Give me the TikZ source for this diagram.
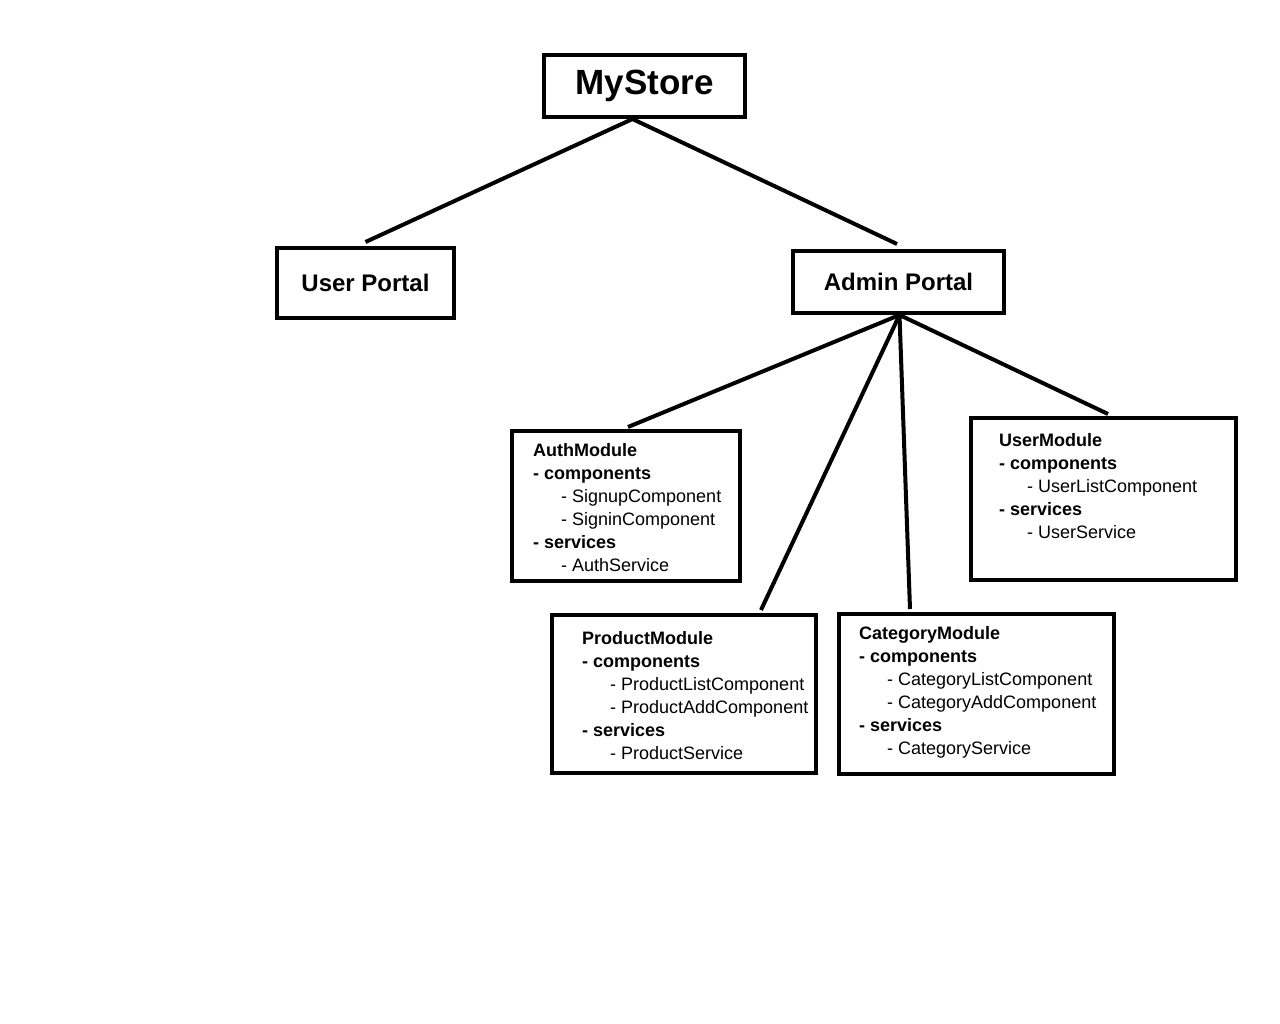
\documentclass[tikz,border=0pt]{standalone}
\usepackage{fontspec}
\setmainfont{Liberation Sans}
\usetikzlibrary{positioning}
\newcommand{\grp}[1]{\textbf{- #1}}
\newcommand{\itm}[1]{\hspace*{28pt}- #1}

\begin{document}
\begin{tikzpicture}[x=1pt,y=-1pt,
    box/.style={draw,line width=4pt,inner sep=0pt,font=\bfseries\fontsize{24}{28}\selectfont},
    modtext/.style={anchor=north west,inner sep=0pt,align=left,font=\fontsize{18}{23}\selectfont},
    link/.style={line width=4pt}]
    \useasboundingbox (0,0) rectangle (1280,1024);

    % Top level
    \node[box,minimum width=201pt,minimum height=62pt,font=\bfseries\fontsize{35}{40}\selectfont] (store) at (644.5,86) {MyStore};
    \node[box,minimum width=177pt,minimum height=70pt] (up) at (365.5,283) {User Portal};
    \node[box,minimum width=211pt,minimum height=62pt] (ap) at (898.5,282) {Admin Portal};

    % Module boxes
    \node[box,minimum width=228pt,minimum height=150pt] (auth) at (626,506) {};
    \node[box,minimum width=265pt,minimum height=162pt] (um) at (1103.5,499) {};
    \node[box,minimum width=264pt,minimum height=158pt] (pm) at (684,694) {};
    \node[box,minimum width=275pt,minimum height=160pt] (cm) at (976.5,694) {};

    % Module contents
    \node[modtext] (authtxt) at (533,443) {\textbf{AuthModule}\\ \grp{components}\\ \itm{SignupComponent}\\
        \itm{SigninComponent}\\ \grp{services}\\ \itm{AuthService}};
    \node[modtext] (umtxt) at (999,433) {\textbf{UserModule}\\ \grp{components}\\ \itm{UserListComponent}\\
        \grp{services}\\ \itm{UserService}};
    \node[modtext] (pmtxt) at (582,631) {\textbf{ProductModule}\\ \grp{components}\\ \itm{ProductListComponent}\\
        \itm{ProductAddComponent}\\ \grp{services}\\ \itm{ProductService}};
    \node[modtext] (cmtxt) at (859,626) {\textbf{CategoryModule}\\ \grp{components}\\ \itm{CategoryListComponent}\\
        \itm{CategoryAddComponent}\\ \grp{services}\\ \itm{CategoryService}};

    % Connectors
    \draw[link] ([xshift=-12pt]store.south) -- ([yshift=4pt]up.north);
    \draw[link] ([xshift=-12pt]store.south) -- ([xshift=-1.5pt,yshift=5pt]ap.north);
    \draw[link] ([xshift=1pt]ap.south) -- ([xshift=2pt,yshift=2pt]auth.north);
    \draw[link] ([xshift=1pt]ap.south) -- ([xshift=77pt,yshift=3pt]pm.north);
    \draw[link] ([xshift=1pt]ap.south) -- ([xshift=-66.5pt,yshift=3pt]cm.north);
    \draw[link] ([xshift=1pt]ap.south) -- ([xshift=4.5pt,yshift=2pt]um.north);
\end{tikzpicture}
\end{document}
